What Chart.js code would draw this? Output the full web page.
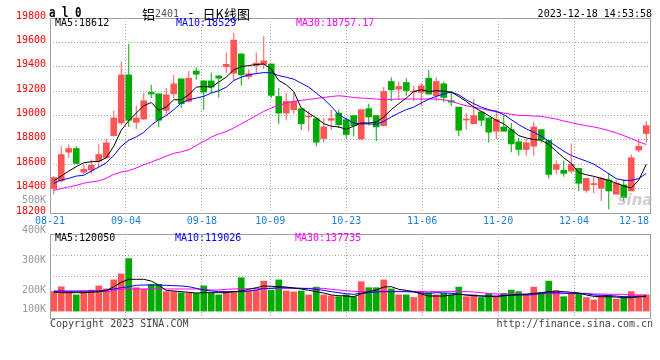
<!DOCTYPE html>
<html><head><meta charset="utf-8">
<script src="https://cdn.jsdelivr.net/npm/chart.js@4.4.0/dist/chart.umd.min.js"></script>
<style>
html,body{margin:0;padding:0;background:#fff;}
#wrap{position:relative;width:660px;height:360px;overflow:hidden;}
canvas{position:absolute;left:0;top:0;}
</style>
</head><body>
<div id="wrap"><canvas id="k" width="660" height="360"></canvas><canvas id="v" width="660" height="360"></canvas></div>
<script>
// ---------- DATA ----------
const dates = ['08-21','08-22','08-23','08-24','08-25','08-28','08-29','08-30','08-31','09-01',
 '09-04','09-05','09-06','09-07','09-08','09-11','09-12','09-13','09-14','09-15',
 '09-18','09-19','09-20','09-21','09-22','09-25','09-26','09-27','09-28','10-09',
 '10-10','10-11','10-12','10-13','10-16','10-17','10-18','10-19','10-20','10-23',
 '10-24','10-25','10-26','10-27','10-30','10-31','11-01','11-02','11-03','11-06',
 '11-07','11-08','11-09','11-10','11-13','11-14','11-15','11-16','11-17','11-20',
 '11-21','11-22','11-23','11-24','11-27','11-28','11-29','11-30','12-01','12-04',
 '12-05','12-06','12-07','12-08','12-11','12-12','12-13','12-14','12-15','12-18'];
const xTickLabels = ['08-21','09-04','09-18','10-09','10-23','11-06','11-20','12-04','12-18'];
const priceTicks = [18200,18400,18600,18800,19000,19200,19400,19600,19800];
const volLabelVals = [100,200,300,400,500]; // K

const opens = [18400,18463,18699,18729,18536,18553,18626,18653,18835,18939,
 19333,18944,18971,19189,19178,19042,19178,19301,19116,19366,
 19284,19284,19325,19401,19347,19505,19320,19410,19420,19423,
 19156,19020,19048,19056,18988,18974,18811,18961,19020,18966,
 18999,18808,19056,18999,18917,19279,19216,19271,19192,19189,
 19306,19162,19260,19121,19069,18963,18933,19029,18980,18871,
 18906,18884,18784,18721,18748,18884,18795,18558,18550,18544,
 18566,18386,18433,18403,18471,18354,18430,18381,18716,18852];
const highs = [18503,18748,18762,18748,18599,18640,18762,18808,19040,19442,
 19586,19080,19184,19252,19178,19225,19333,19301,19366,19393,
 19290,19352,19330,19516,19679,19510,19380,19516,19652,19423,
 19225,19184,19189,19056,19034,18974,18980,19048,19048,18980,
 18999,19048,19097,18999,19233,19314,19279,19306,19244,19265,
 19374,19314,19279,19197,19069,19020,19135,19034,18980,19048,
 18999,18939,18816,18808,18947,18884,18795,18631,18631,18770,
 18566,18484,18495,18498,18531,18471,18476,18680,18808,18952];
const lows = [18354,18455,18653,18599,18517,18522,18572,18648,18830,18925,
 18906,18890,18961,19143,18906,19007,19143,19059,19108,19293,
 19048,19184,19148,19347,19279,19244,19298,19339,19380,19143,
 18933,18961,19015,18879,18871,18748,18781,18884,18898,18811,
 18830,18797,18917,18789,18912,19116,19129,19162,19116,19075,
 19170,19116,19108,19075,18830,18884,18933,18912,18776,18808,
 18871,18699,18672,18672,18672,18776,18484,18517,18498,18525,
 18381,18367,18362,18299,18231,18354,18299,18381,18699,18776];
const closes = [18490,18680,18729,18607,18558,18591,18680,18776,18980,19333,
 18961,18980,19121,19176,18961,19170,19260,19097,19306,19339,
 19192,19233,19306,19420,19619,19333,19342,19429,19448,19165,
 19020,19116,19116,18933,18993,18781,18906,18974,18925,18844,
 18917,19048,18988,18906,19197,19211,19238,19205,19197,19244,
 19176,19279,19148,19110,18879,18969,18999,18961,18863,18966,
 18871,18767,18721,18776,18906,18803,18517,18599,18525,18599,
 18444,18484,18438,18484,18381,18444,18327,18653,18748,18917];
const ma5 = [18463,18504,18544,18580,18612,18621,18623,18653,18748,18879,
 18958,19020,19080,19107,19042,19069,19129,19129,19170,19233,
 19238,19233,19274,19315,19374,19401,19410,19418,19423,19380,
 19287,19252,19197,19061,19020,18980,18933,18912,18906,18887,
 18912,18939,18939,18945,18988,19048,19097,19143,19197,19211,
 19197,19203,19200,19192,19156,19116,19069,19034,18999,18961,
 18931,18884,18835,18816,18803,18797,18762,18707,18653,18607,
 18531,18514,18501,18484,18468,18444,18422,18405,18470,18600];
const ma10 = [18443,18471,18484,18503,18509,18544,18577,18612,18672,18748,
 18797,18824,18862,18920,18966,18999,19048,19102,19129,19143,
 19157,19184,19203,19232,19287,19314,19333,19344,19352,19350,
 19328,19314,19298,19265,19233,19184,19135,19075,19007,18971,
 18939,18931,18931,18928,18952,18988,19020,19048,19069,19102,
 19135,19156,19178,19192,19170,19129,19097,19069,19048,19034,
 19007,18966,18925,18890,18863,18830,18789,18748,18707,18672,
 18648,18626,18601,18563,18522,18482,18468,18468,18482,18525];
const ma30 = [18386,18400,18414,18427,18444,18455,18463,18485,18517,18536,
 18547,18569,18596,18618,18642,18667,18689,18702,18719,18754,
 18787,18822,18849,18868,18898,18931,18966,18999,19034,19061,
 19083,19102,19116,19124,19132,19140,19148,19156,19162,19156,
 19148,19143,19140,19135,19129,19132,19135,19135,19135,19135,
 19135,19135,19129,19116,19097,19080,19069,19056,19042,19031,
 19020,19010,19001,18999,18996,18993,18982,18971,18955,18942,
 18928,18917,18906,18893,18876,18857,18835,18811,18784,18762];
// volume, in thousands
const vols = [195,211,195,184,197,200,214,204,234,254,
 305,208,203,219,219,195,195,191,191,189,
 214,189,184,195,195,241,197,200,230,200,
 234,197,194,197,184,210,184,181,178,184,
 178,228,208,208,234,204,184,184,175,195,
 191,184,189,184,210,178,184,175,189,178,
 189,200,195,184,210,191,230,197,178,189,
 189,175,167,181,184,170,178,195,184,184];
const vma5 = [193.7,191.4,191.4,191.4,191.4,192.6,194.8,198,211.4,226,
 236,236,236,230,217,199,197,194.8,192.6,190.3,
 191.4,191.4,191.4,191.4,194.8,197,202.6,208,213.7,212.6,
 211.4,210.3,207,203.7,199.2,194.8,190.3,183.7,181.4,180.3,
 178,188,194.8,200.3,210.3,211.4,202.6,199.2,194.8,187,
 180.3,180.3,180.3,183.7,186,183.7,182.6,180.3,179.2,178,
 181.4,183.7,184.8,186,189.2,191.4,194.8,197,194.8,192.6,
 190.3,183.7,179.2,178,178,177,174.8,174.8,178,180.3];
const vma10 = [197,197,197,197,197,197,197,200.3,203.7,208,
 211.4,215.9,217,217,217,215.9,214.8,213.7,211.4,205.9,
 200.3,197,194.8,194.8,194.8,194.8,197,200.3,205.9,205.9,
 208,208,207,205.9,204.8,202.6,199.2,194.8,191.4,188,
 186,189.2,191.4,193.7,194.8,194.8,194.8,194.8,193.7,190.3,
 189.2,191.4,190.3,189.2,187,183.7,181.4,180.3,180.3,180.3,
 181.4,182.6,183.7,183.7,184.8,189.2,191.4,191.4,190.3,189.2,
 189.2,188,183.7,182.6,181.4,180.3,178,178,178,178];
const vma30 = [194.8,194.8,194.8,194.8,194.8,194.8,194.8,194.8,199.2,202.6,
 203.7,203.7,203.7,203.7,203.7,203.7,203.7,203.7,203.7,203.7,
 202.6,200.3,200.3,202.6,203.7,204.8,204.8,204.8,204.8,205.9,
 205.9,205.9,205.9,205.9,205.9,205.9,205.9,202.6,200.3,198,
 195.9,194.8,195.9,195.9,195.9,195.9,195.9,195.9,195.9,194.8,
 194.8,194.8,194.8,194.8,194.8,194.8,193.7,191.4,189.2,187,
 187,187,187,187,187,188,188,188,188,189.2,
 189.2,189.2,187,187,186,186,186,183.7,183.7,183.7];
const volBase = 130; // bar baseline (K)

// ---------- STYLE ----------
const MONO = "'DejaVu Sans Mono', monospace";
const CJK = "'Noto Sans CJK SC', sans-serif";
const UP = '#ff5555', DN = '#00aa00';
const GRID = '#a8a8a8', FRAME = '#a0a0a0';
const candleColor = closes.map((c, i) => c >= opens[i] ? UP : DN);
const xTickIdx = xTickLabels.map(d => dates.indexOf(d));

const framePlugin = {
  id: 'frame',
  afterDatasetsDraw(chart) {
    const {ctx, chartArea: a} = chart;
    ctx.save();
    ctx.setLineDash([]);
    ctx.strokeStyle = FRAME; ctx.lineWidth = 1;
    ctx.strokeRect(Math.round(a.left) + 0.5, Math.round(a.top) + 0.5,
                   Math.round(a.right - a.left), Math.round(a.bottom - a.top));
    ctx.restore();
  }
};

function gridX() {
  return {
    type: 'linear', position: 'bottom', min: 0, max: dates.length - 1,
    offset: false, beginAtZero: false,
    afterBuildTicks: s => { s.ticks = xTickIdx.map(v => ({value: v})); },
    ticks: {display: false},
    grid: {color: GRID, drawTicks: false, lineWidth: 1, offset: false},
    border: {display: false, dash: [1, 2]},
    afterFit: s => { s.height = 0; }
  };
}
function lineDs(data, color) {
  return {type: 'line', data, borderColor: color, borderWidth: 1, pointRadius: 0,
          tension: 0, order: 0, xAxisID: 'x', yAxisID: 'y'};
}

const kText = {
  id: 'kText',
  afterDraw(chart) {
    const {ctx, chartArea: a} = chart;
    ctx.save();
    ctx.textBaseline = 'middle';
    // x labels
    ctx.font = `10px ${MONO}`;
    ctx.fillStyle = '#1a7fd6';
    ctx.textAlign = 'center';
    const xg = chart.scales.xg;
    xTickIdx.forEach((v, k) => {
      const t = xTickLabels[k];
      const w = ctx.measureText(t).width;
      let x = xg.getPixelForValue(v);
      x = Math.min(x, a.right - 1 - w / 2);
      ctx.fillText(t, x, a.bottom + 8.7);
    });
    // header
    ctx.textAlign = 'left';
    ctx.save();
    ctx.translate(49, 14);
    ctx.scale(0.9, 1.1);
    ctx.font = `bold 12px ${MONO}`;
    ctx.fillStyle = '#000';
    ctx.fillText('a l 0', 0, 0);
    ctx.restore();
    const parts = [['铝', `13px ${CJK}`, '#000'], ['2401', `10px ${MONO}`, '#555'],
                   [' - ', `13px ${MONO}`, '#000'], ['日K线图', `13px ${CJK}`, '#000']];
    let x = 142;
    parts.forEach(([t, f, c]) => {
      ctx.font = f; ctx.fillStyle = c;
      ctx.fillText(t, x, 14);
      x += ctx.measureText(t).width;
    });
    ctx.font = `10px ${MONO}`;
    ctx.fillStyle = '#000';
    ctx.textAlign = 'right';
    ctx.fillText('2023-12-18 14:53:58', 652, 14);
    // MA labels
    ctx.textAlign = 'left';
    const y = a.top + 5.5;
    ctx.fillStyle = '#000'; ctx.fillText('MA5:18612', 55, y);
    ctx.fillStyle = '#0000ff'; ctx.fillText('MA10:18529', 176, y);
    ctx.fillStyle = '#ff00ff'; ctx.fillText('MA30:18757.17', 296, y);
    // watermark
    ctx.font = `italic bold 15px 'DejaVu Sans', sans-serif`;
    ctx.fillStyle = 'rgba(170,165,165,0.55)';
    ctx.textAlign = 'center';
    ctx.fillText('sina', 635, a.bottom - 12);
    ctx.restore();
  }
};

new Chart(document.getElementById('k'), {
  type: 'bar',
  data: {
    labels: dates,
    datasets: [
      lineDs(ma5, '#000000'),
      lineDs(ma10, '#0000ff'),
      lineDs(ma30, '#ff00ff'),
      {type: 'bar', data: opens.map((o, i) => [o, closes[i]]), backgroundColor: candleColor,
       barThickness: 6, minBarLength: 1, grouped: false, order: 1, xAxisID: 'x', yAxisID: 'y'},
      {type: 'bar', data: lows.map((l, i) => [l, highs[i]]), backgroundColor: candleColor,
       barThickness: 1, inflateAmount: 0, grouped: false, order: 2, xAxisID: 'x', yAxisID: 'y'}
    ]
  },
  options: {
    responsive: false, animation: false, events: [],
    layout: {padding: {left: 0, right: 10, top: 18, bottom: 147}},
    plugins: {legend: {display: false}, tooltip: {enabled: false}},
    scales: {
      x: {type: 'category', display: false, offset: true},
      xg: gridX(),
      y: {
        type: 'linear', position: 'left', min: priceTicks[0], max: priceTicks[priceTicks.length - 1],
        beginAtZero: false,
        afterBuildTicks: s => { s.ticks = priceTicks.map(v => ({value: v})); },
        ticks: {color: '#ff0000', font: {family: MONO, size: 10}, padding: 4, labelOffset: -2,
                autoSkip: false, callback: v => String(v)},
        grid: {color: GRID, drawTicks: false, lineWidth: 1},
        border: {display: false, dash: [1, 2]},
        afterFit: s => { s.width = 50; }
      }
    }
  },
  plugins: [framePlugin, kText]
});

const vText = {
  id: 'vText',
  afterDraw(chart) {
    const {ctx, chartArea: a} = chart;
    const yv = chart.scales.y;
    ctx.save();
    ctx.textBaseline = 'middle';
    ctx.font = `10px ${MONO}`;
    ctx.fillStyle = '#999999';
    ctx.textAlign = 'right';
    volLabelVals.forEach(v => {
      const y = Math.min(yv.getPixelForValue(v), a.bottom - 9);
      ctx.fillText(v + 'K', 46, y);
    });
    ctx.textAlign = 'left';
    const y = a.top + 4.7;
    ctx.fillStyle = '#000'; ctx.fillText('MA5:120050', 55, y);
    ctx.fillStyle = '#0000ff'; ctx.fillText('MA10:119026', 175, y);
    ctx.fillStyle = '#ff00ff'; ctx.fillText('MA30:137735', 295, y);
    ctx.fillStyle = '#444';
    ctx.fillText('Copyright 2023 SINA.COM', 50, a.bottom + 6);
    ctx.textAlign = 'right';
    ctx.fillText('http://finance.sina.com.cn', 653, a.bottom + 6);
    ctx.restore();
  }
};

new Chart(document.getElementById('v'), {
  type: 'bar',
  data: {
    labels: dates,
    datasets: [
      lineDs(vma5, '#000000'),
      lineDs(vma10, '#0000ff'),
      lineDs(vma30, '#ff00ff'),
      {type: 'bar', data: vols, base: volBase, backgroundColor: candleColor,
       barThickness: 6, grouped: false, order: 1, xAxisID: 'x', yAxisID: 'y'}
    ]
  },
  options: {
    responsive: false, animation: false, events: [],
    layout: {padding: {left: 0, right: 10, top: 234, bottom: 42}},
    plugins: {legend: {display: false}, tooltip: {enabled: false}},
    scales: {
      x: {type: 'category', display: false, offset: true},
      xg: gridX(),
      y: {
        type: 'linear', position: 'left', min: 107, max: 387, beginAtZero: false,
        ticks: {display: false, count: 5},
        grid: {color: GRID, drawTicks: false, lineWidth: 1},
        border: {display: false, dash: [1, 2]},
        afterFit: s => { s.width = 50; }
      }
    }
  },
  plugins: [framePlugin, vText]
});
</script>
</body></html>
